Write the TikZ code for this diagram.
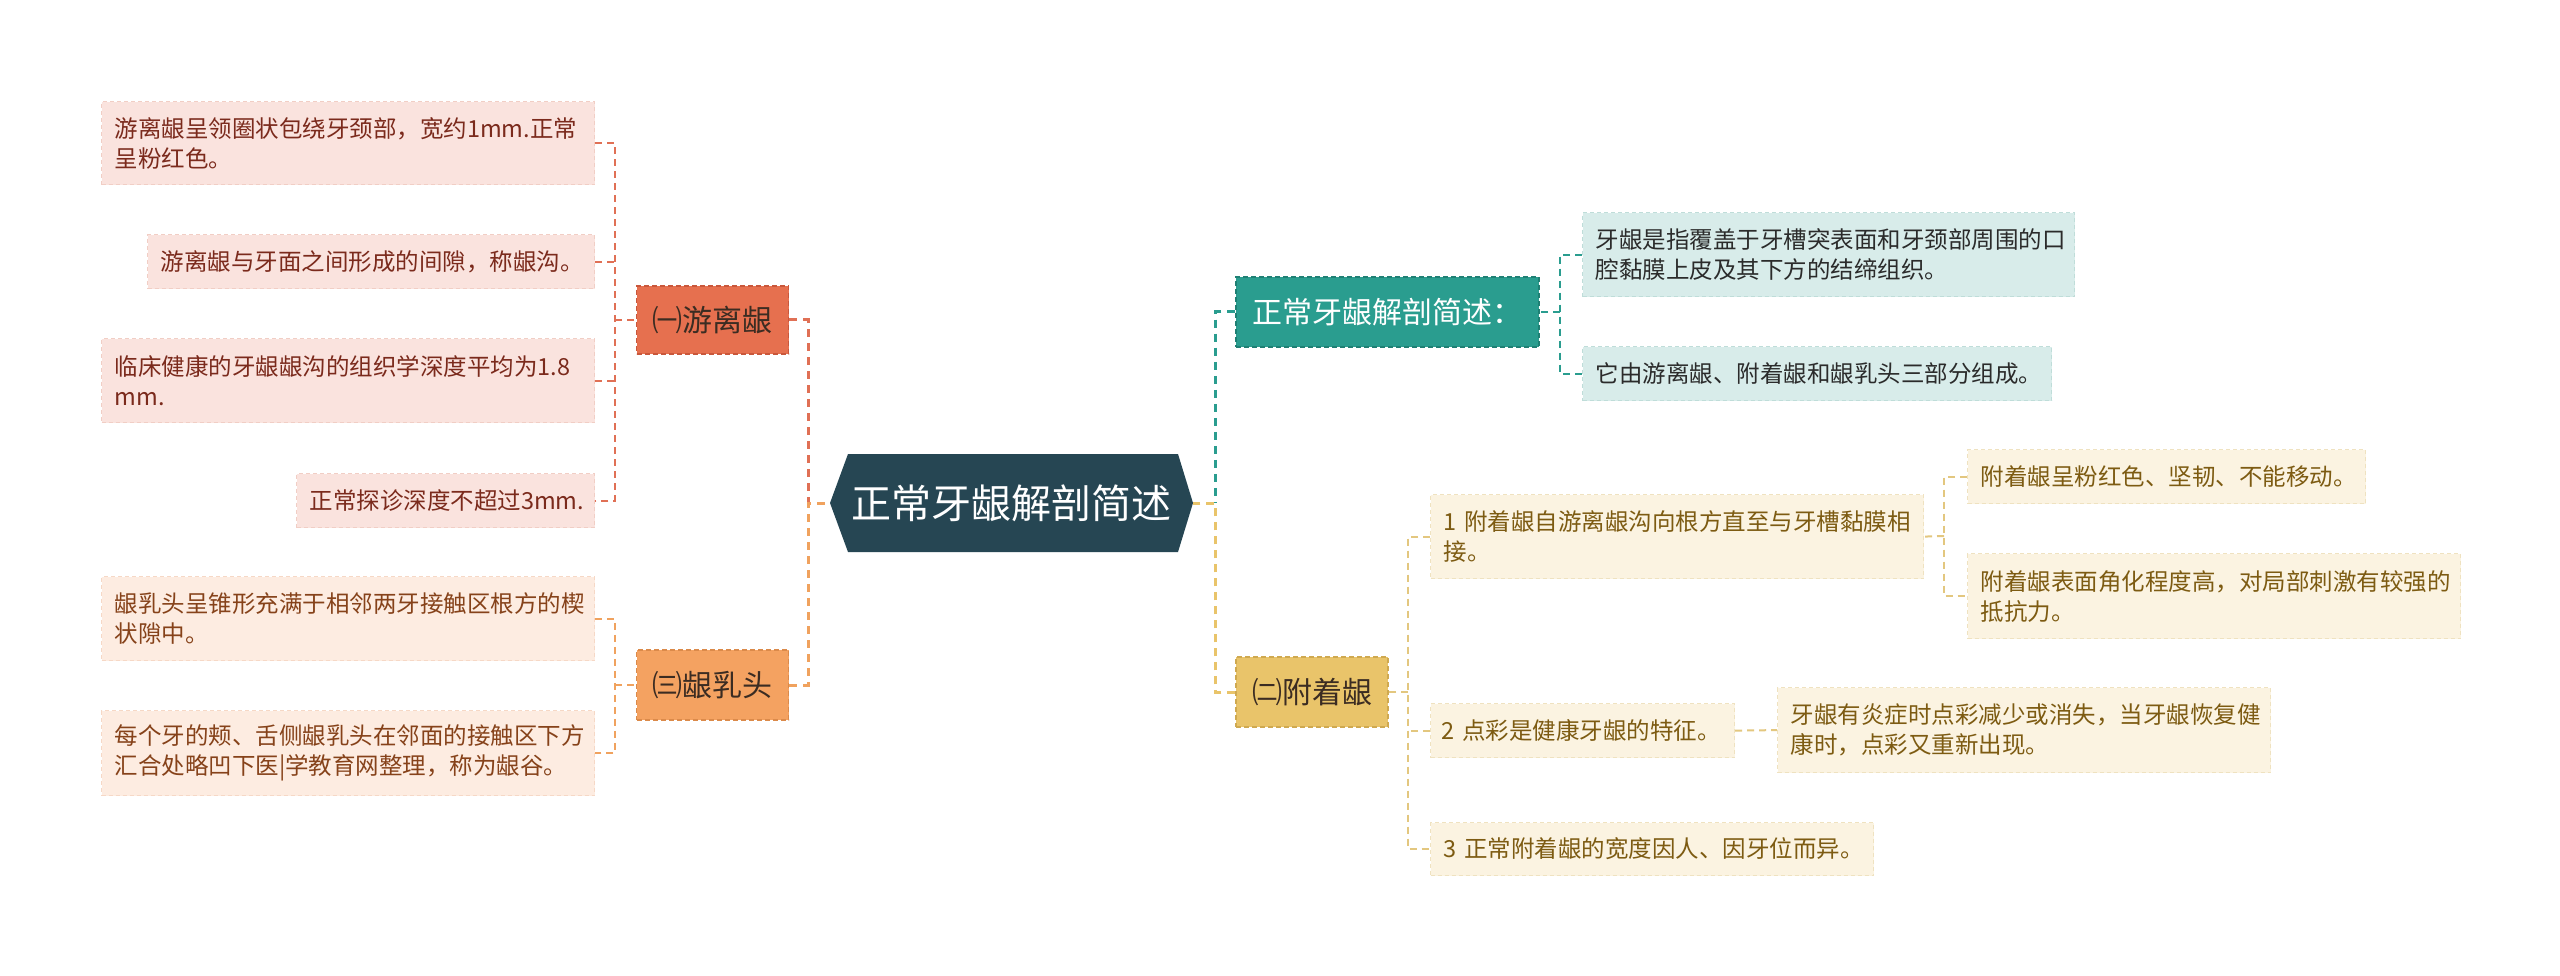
\documentclass[tikz,border=0pt]{standalone}
\usepackage{fontspec}
\setmainfont{Noto Sans CJK SC}
\definecolor{rootfill}{HTML}{264653}
\definecolor{bRfill}{HTML}{E6704F}
\definecolor{bRdraw}{HTML}{C9573B}
\definecolor{bOfill}{HTML}{F4A261}
\definecolor{bOdraw}{HTML}{DB8A4A}
\definecolor{bTfill}{HTML}{2A9D8F}
\definecolor{bTdraw}{HTML}{1F8074}
\definecolor{bYfill}{HTML}{E9C46A}
\definecolor{bYdraw}{HTML}{CFA950}
\definecolor{lfR}{HTML}{FAE3DE}
\definecolor{lfRb}{HTML}{F1CEC5}
\definecolor{txR}{HTML}{7B2A1C}
\definecolor{lfO}{HTML}{FDECE1}
\definecolor{lfOb}{HTML}{F6D8C6}
\definecolor{txO}{HTML}{86421A}
\definecolor{lfT}{HTML}{D8ECEA}
\definecolor{lfTb}{HTML}{BFDDD9}
\definecolor{txT}{HTML}{2B2B2B}
\definecolor{lfY}{HTML}{FBF3E1}
\definecolor{lfYb}{HTML}{EFE2C0}
\definecolor{txY}{HTML}{7D5B12}
\definecolor{txB}{HTML}{3B2C22}
\definecolor{cR}{HTML}{E07055}
\definecolor{cO}{HTML}{F0A25E}
\definecolor{cT}{HTML}{2A9D8F}
\definecolor{cY}{HTML}{E9C46A}
\definecolor{cY2}{HTML}{E3C77F}
\begin{document}
\begin{tikzpicture}[x=1pt,y=-1pt,
  every node/.style={inner ysep=0pt, inner xsep=13pt},
  leaf/.style={rectangle, align=left, font=\fontsize{23.5pt}{30pt}\selectfont, line width=1.2pt, dash pattern=on 4pt off 3pt, anchor=north west},
  leafR/.style={leaf, fill=lfR, draw=lfRb, text=txR},
  leafO/.style={leaf, fill=lfO, draw=lfOb, text=txO},
  leafT/.style={leaf, fill=lfT, draw=lfTb, text=txT},
  leafY/.style={leaf, fill=lfY, draw=lfYb, text=txY},
  br/.style={rectangle, align=center, font=\fontsize{30pt}{36pt}\selectfont, line width=1.5pt, dash pattern=on 5pt off 3pt, inner xsep=0pt},
  conn/.style={line width=2pt, dash pattern=on 7pt off 5pt},
  conn1/.style={line width=3pt, dash pattern=on 8pt off 6pt},
]
\useasboundingbox (0,0) rectangle (2560,976);
\fill[white] (0,0) rectangle (2560,976);

% root hexagon
\coordinate (rootW) at (830,503);
\coordinate (rootE) at (1193,503);
\fill[rootfill] (rootW) -- (848,454) -- (1178,454) -- (rootE) -- (1178,552) -- (848,552) -- cycle;
\node[text=white, font=\fontsize{40pt}{48pt}\selectfont, inner sep=0pt] (root) at (1011.5,503) {正常牙龈解剖简述};

% branches
\node[br, fill=bRfill, draw=bRdraw, text=txB, minimum width=152pt, minimum height=68pt] (b1) at (712.5,320) {㈠游离龈};
\node[br, fill=bOfill, draw=bOdraw, text=txB, minimum width=152pt, minimum height=70pt] (b3) at (712.5,685) {㈢龈乳头};
\node[br, fill=bTfill, draw=bTdraw, text=white, minimum width=303pt, minimum height=70pt] (bt) at (1387.5,312) {正常牙龈解剖简述：};
\node[br, fill=bYfill, draw=bYdraw, text=txB, minimum width=152pt, minimum height=70pt] (b2) at (1312,692) {㈡附着龈};

% left leaves (group 1)
\node[leafR, text width=467pt, minimum height=83pt] (l1) at (101,101) {游离龈呈领圈状包绕牙颈部，宽约1mm.正常\\呈粉红色。};
\node[leafR, text width=421pt, minimum height=54pt] (l2) at (147,234) {游离龈与牙面之间形成的间隙，称龈沟。};
\node[leafR, text width=467pt, minimum height=84pt] (l3) at (101,338) {临床健康的牙龈龈沟的组织学深度平均为1.8\\mm.};
\node[leafR, text width=272pt, minimum height=54pt] (l4) at (296,473) {正常探诊深度不超过3mm.};

% left leaves (group 3)
\node[leafO, text width=467pt, minimum height=84pt] (l5) at (101,576) {龈乳头呈锥形充满于相邻两牙接触区根方的楔\\状隙中。};
\node[leafO, text width=467pt, minimum height=85pt] (l6) at (101,710) {每个牙的颊、舌侧龈乳头在邻面的接触区下方\\汇合处略凹下医|学教育网整理，称为龈谷。};

% right leaves (teal)
\node[leafT, text width=466pt, minimum height=84pt] (r1) at (1582,212) {牙龈是指覆盖于牙槽突表面和牙颈部周围的口\\腔黏膜上皮及其下方的结缔组织。};
\node[leafT, text width=443pt, minimum height=54pt] (r2) at (1582,346) {它由游离龈、附着龈和龈乳头三部分组成。};

% right leaves (yellow)
\node[leafY, text width=467pt, minimum height=84pt] (c1) at (1430,494) {1~附着龈自游离龈沟向根方直至与牙槽黏膜相\\接。};
\node[leafY, text width=282pt, inner xsep=11pt, minimum height=54pt] (c2) at (1430,703) {2~点彩是健康牙龈的特征。};
\node[leafY, text width=417pt, minimum height=53pt] (c3) at (1430,822) {3~正常附着龈的宽度因人、因牙位而异。};
\node[leafY, text width=467pt, minimum height=85pt] (e1) at (1777,687) {牙龈有炎症时点彩减少或消失，当牙龈恢复健\\康时，点彩又重新出现。};
\node[leafY, text width=372pt, minimum height=54pt] (d1) at (1967,449) {附着龈呈粉红色、坚韧、不能移动。};
\node[leafY, text width=467pt, minimum height=85pt] (d2) at (1967,553) {附着龈表面角化程度高，对局部刺激有较强的\\抵抗力。};

% junction coordinates
\coordinate (jL) at (808,503);
\coordinate (jR) at (1215,503);
\coordinate (jb1) at (615,320);
\coordinate (jb3) at (615,685);
\coordinate (jbt) at (1560,312);
\coordinate (jb2) at (1408,692);
\coordinate (jc1) at (1944,536);

% root connectors
\draw[conn1, cR] (b1.east) -| (jL);
\draw[conn1, cO] (b3.east) -| (jL) -- (rootW);
\draw[conn1, cT] (bt.west) -| (jR);
\draw[conn1, cY] (b2.west) -| (jR) -- (rootE);

% group 1
\draw[conn, cR] (l1.east) -| (jb1) |- (l4.east);
\draw[conn, cR] (jb1) -- (b1.west);
\draw[conn, cR] (l2.east) -- (l2.east -| jb1);
\draw[conn, cR] (l3.east) -- (l3.east -| jb1);

% group 3
\draw[conn, cO] (l5.east) -| (jb3) |- (l6.east);
\draw[conn, cO] (jb3) -- (b3.west);

% teal
\draw[conn, cT] (r1.west) -| (jbt) |- (r2.west);
\draw[conn, cT] (jbt) -- (bt.east);

% yellow
\draw[conn, cY2] (c1.west) -| (jb2) |- (c3.west);
\draw[conn, cY2] (jb2) -- (b2.east);
\draw[conn, cY2] (c2.west) -- (c2.west -| jb2);
\draw[conn, cY2] (d1.west) -| (jc1) |- (d2.west);
\draw[conn, cY2] (jc1) -- (c1.east);
\draw[conn, cY2] (c2.east) -- (e1.west);
\end{tikzpicture}
\end{document}
